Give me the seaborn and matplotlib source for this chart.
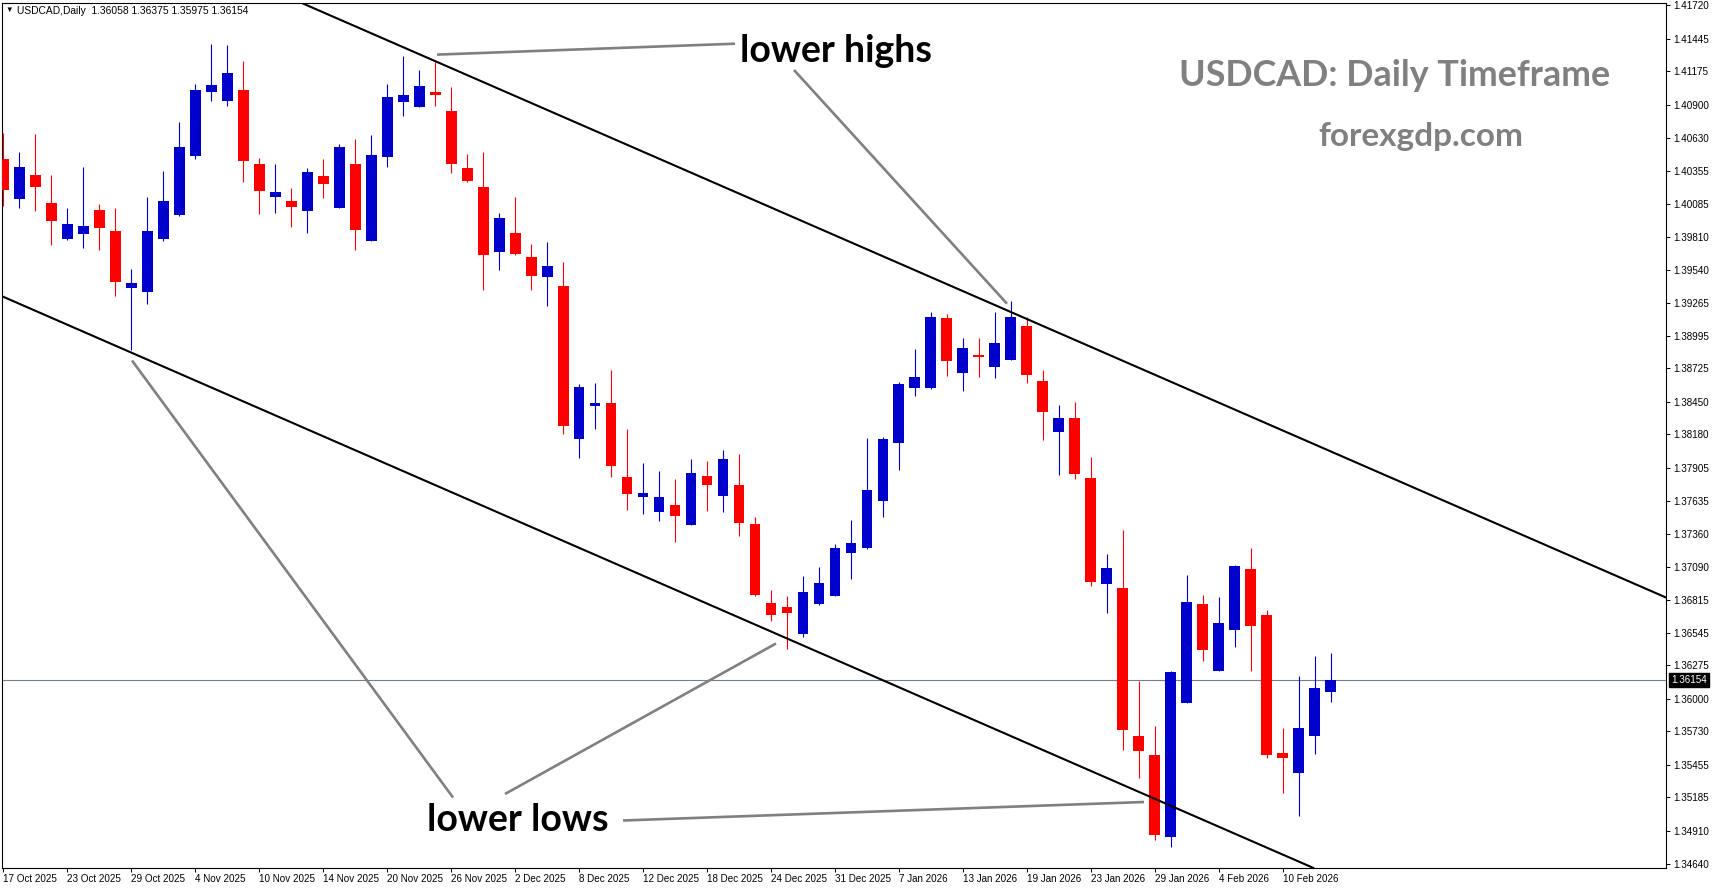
import matplotlib
matplotlib.use("Agg")
import matplotlib.pyplot as plt
from matplotlib.lines import Line2D
import numpy as np
import pandas as pd
import seaborn as sns

# ---------------- data ----------------
opens = [1.40454, 1.40124, 1.40322, 1.40091, 1.39794, 1.39838, 1.40033, 1.39860, 1.39392, 1.39359,
         1.39794, 1.39992, 1.40478, 1.41006, 1.40932, 1.41023, 1.40413, 1.40140, 1.40107, 1.40025,
         1.40314, 1.40050, 1.40413, 1.39778, 1.40470, 1.40924, 1.40883, 1.41006, 1.40850, 1.40380,
         1.40223, 1.39687, 1.39843, 1.39646, 1.39481, 1.39406, 1.38145, 1.38417, 1.38442, 1.37831,
         1.37666, 1.37543, 1.37600, 1.37435, 1.37839, 1.37675, 1.37765, 1.37444, 1.36792, 1.36759,
         1.36536, 1.36784, 1.36850, 1.37204, 1.37246, 1.37633, 1.38112, 1.38565, 1.38565, 1.39142,
         1.38689, 1.38837, 1.38738, 1.38796, 1.39077, 1.38623, 1.38202, 1.38318, 1.37823, 1.36949,
         1.36916, 1.35695, 1.35539, 1.34862, 1.35967, 1.36784, 1.36231, 1.36569, 1.37073, 1.36693,
         1.35555, 1.35390, 1.35695, 1.36058]
highs = [1.40666, 1.40511, 1.40660, 1.40322, 1.40050, 1.40388, 1.40083, 1.40050, 1.39547, 1.40140,
         1.40355, 1.40759, 1.41072, 1.41402, 1.41394, 1.41262, 1.40462, 1.40413, 1.40215, 1.40380,
         1.40454, 1.40577, 1.40619, 1.40652, 1.41072, 1.41303, 1.41188, 1.41254, 1.41048, 1.40495,
         1.40511, 1.40008, 1.40140, 1.39753, 1.39769, 1.39604, 1.38598, 1.38606, 1.38714, 1.38227,
         1.37947, 1.37881, 1.37815, 1.37980, 1.37963, 1.38054, 1.38021, 1.37501, 1.36899, 1.36850,
         1.37015, 1.37089, 1.37279, 1.37477, 1.38153, 1.38161, 1.38615, 1.38887, 1.39192, 1.39175,
         1.38978, 1.38978, 1.39192, 1.39283, 1.39151, 1.38714, 1.38425, 1.38450, 1.37996, 1.37196,
         1.37394, 1.36149, 1.35778, 1.36231, 1.37023, 1.36858, 1.36842, 1.37105, 1.37246, 1.36734,
         1.35761, 1.36190, 1.36355, 1.36375]
lows = [1.40069, 1.40052, 1.40025, 1.39745, 1.39786, 1.39722, 1.39698, 1.39326, 1.38873, 1.39260,
        1.39780, 1.39984, 1.40454, 1.40932, 1.40891, 1.40264, 1.40000, 1.40008, 1.39893, 1.39843,
        1.40132, 1.40046, 1.39703, 1.39773, 1.40388, 1.40808, 1.40879, 1.40891, 1.40338, 1.40264,
        1.39373, 1.39538, 1.39662, 1.39373, 1.39241, 1.38186, 1.37988, 1.38227, 1.37831, 1.37559,
        1.37526, 1.37468, 1.37295, 1.37431, 1.37551, 1.37543, 1.37345, 1.36850, 1.36644, 1.36413,
        1.36512, 1.36776, 1.36846, 1.36990, 1.37237, 1.37501, 1.37889, 1.38499, 1.38557, 1.38664,
        1.38540, 1.38656, 1.38648, 1.38792, 1.38606, 1.38136, 1.37848, 1.37815, 1.36932, 1.36710,
        1.35580, 1.35349, 1.34838, 1.34780, 1.35963, 1.36314, 1.36227, 1.36429, 1.36231, 1.35514,
        1.35225, 1.35035, 1.35547, 1.35975]
closes = [1.40201, 1.40388, 1.40225, 1.39942, 1.39918, 1.39901, 1.39885, 1.39442, 1.39431, 1.39860,
          1.40107, 1.40553, 1.41023, 1.41064, 1.41163, 1.40437, 1.40190, 1.40182, 1.40058, 1.40347,
          1.40248, 1.40553, 1.39868, 1.40487, 1.40965, 1.40982, 1.41056, 1.40982, 1.40413, 1.40272,
          1.39662, 1.39967, 1.39670, 1.39489, 1.39571, 1.38252, 1.38573, 1.38442, 1.37922, 1.37691,
          1.37699, 1.37666, 1.37510, 1.37864, 1.37765, 1.37980, 1.37452, 1.36858, 1.36693, 1.36710,
          1.36883, 1.36957, 1.37246, 1.37287, 1.37724, 1.38145, 1.38598, 1.38656, 1.39151, 1.38788,
          1.38895, 1.38821, 1.38936, 1.39151, 1.38672, 1.38367, 1.38318, 1.37856, 1.36965, 1.37081,
          1.35745, 1.35572, 1.34879, 1.36223, 1.36800, 1.36404, 1.36627, 1.37097, 1.36602, 1.35539,
          1.35514, 1.35761, 1.36091, 1.36154]

x_tick_labels = ["17 Oct 2025", "23 Oct 2025", "29 Oct 2025", "4 Nov 2025", "10 Nov 2025",
                 "14 Nov 2025", "20 Nov 2025", "26 Nov 2025", "2 Dec 2025", "8 Dec 2025",
                 "12 Dec 2025", "18 Dec 2025", "24 Dec 2025", "31 Dec 2025", "7 Jan 2026",
                 "13 Jan 2026", "19 Jan 2026", "23 Jan 2026", "29 Jan 2026", "4 Feb 2026",
                 "10 Feb 2026"]
y_tick_values = [1.41720, 1.41445, 1.41175, 1.40900, 1.40630, 1.40355, 1.40085, 1.39810, 1.39540,
                 1.39265, 1.38995, 1.38725, 1.38450, 1.38180, 1.37905, 1.37635, 1.37360, 1.37090,
                 1.36815, 1.36545, 1.36275, 1.36000, 1.35730, 1.35455, 1.35185, 1.34910, 1.34640]
last_price = 1.36154
header_text = "USDCAD,Daily  1.36058 1.36375 1.35975 1.36154"

# channel anchors (candle index, price)
upper_channel = [(18.54, 1.41747), (103.92, 1.36837)]
lower_channel = [(0.0, 1.39316), (81.92, 1.34603)]

# ---------------- style ----------------
sns.set_theme(style="white")
plt.rcParams['font.family'] = ['Liberation Sans', 'DejaVu Sans']

W, H = 1713, 888
fig = plt.figure(figsize=(W / 100, H / 100), dpi=100)
fig.patch.set_facecolor('white')
ax_l, ax_r, ax_t, ax_b = 2, 1666, 3, 868
ax = fig.add_axes([ax_l / W, 1 - ax_b / H, (ax_r - ax_l) / W, (ax_b - ax_t) / H])
ax.set_facecolor('white')

df = pd.DataFrame({'o': opens, 'h': highs, 'l': lows, 'c': closes})
df['idx'] = np.arange(len(df))
bull = df['c'] >= df['o']
colors = np.where(bull, '#0000CD', '#FF0000')

# current price line
ax.axhline(last_price, color='#708090', lw=0.8, zorder=1)

# candles
ax.vlines(df['idx'], df['l'], df['h'], colors=colors, linewidth=0.8, zorder=2)
body_low = df[['o', 'c']].min(axis=1)
body_h = (df['c'] - df['o']).abs().clip(lower=0.00012)
ax.bar(df['idx'], body_h, bottom=body_low, width=0.68, color=colors, linewidth=0, zorder=3)

# channel lines
ax.axline(upper_channel[0], upper_channel[1], color='black', lw=1.5, zorder=4)
ax.axline(lower_channel[0], lower_channel[1], color='black', lw=1.5, zorder=4)

ax.set_xlim(-0.08, 103.96)
ax.set_ylim(1.34603, 1.41740)

ax.yaxis.tick_right()
ax.set_yticks(y_tick_values)
ax.set_yticklabels([f"{v:.5f}" for v in y_tick_values])
ax.set_xticks([4 * k for k in range(len(x_tick_labels))])
ax.set_xticklabels(x_tick_labels)
for lab in ax.get_xticklabels():
    lab.set_ha('left')
ax.tick_params(axis='both', direction='out', length=2.9, width=0.7, color='black',
               labelsize=7.1, labelcolor='black', pad=1.5,
               bottom=True, right=True, left=False, top=False,
               labelright=True, labelleft=False)
ax.tick_params(axis='y', pad=2.5)
for s in ax.spines.values():
    s.set_color('black')
    s.set_linewidth(0.8)
ax.grid(False)

# price label
ax.annotate(f"{last_price:.5f}", xy=(1.0, last_price), xycoords=('axes fraction', 'data'),
            xytext=(5, 0), textcoords='offset pixels', ha='left', va='center',
            color='white', fontsize=7.1,
            bbox=dict(boxstyle='square,pad=0.18', fc='black', ec='black'),
            annotation_clip=False, zorder=6)

# header
def fp(x, y):
    return x / W, 1 - y / H

fig.text(*fp(9.5, 10.7), '▼', fontsize=5.5, ha='center', va='center', color='black')
fig.text(*fp(17, 10.7), header_text, fontsize=7.4, ha='left', va='center', color='black')

# annotation lines
gray = '#808080'
ann_lines = [((735, 43.7), (437, 54.6)),
             ((794, 70), (1007, 303.7)),
             ((505, 794), (776, 643.5)),
             ((453, 797.5), (132, 360.5)),
             ((623, 820.5), (1144, 802))]
for (x1, y1), (x2, y2) in ann_lines:
    a, b = fp(x1, y1), fp(x2, y2)
    fig.add_artist(Line2D([a[0], b[0]], [a[1], b[1]], transform=fig.transFigure,
                          color=gray, lw=1.9, solid_capstyle='butt'))

fig.text(*fp(836, 62), "lower highs", fontsize=27, fontweight='bold', family=['Lato', 'DejaVu Sans'],
         ha='center', va='baseline', color='black')
fig.text(*fp(518, 831), "lower lows", fontsize=27, fontweight='bold', family=['Lato', 'DejaVu Sans'],
         ha='center', va='baseline', color='black')
fig.text(*fp(1395, 86), "USDCAD: Daily Timeframe", fontsize=25.8, fontweight='bold',
         family=['Lato', 'DejaVu Sans'], ha='center', va='baseline', color=gray)
fig.text(*fp(1421, 146), "forexgdp.com", fontsize=24, fontweight='bold',
         family=['Lato', 'DejaVu Sans'], ha='center', va='baseline', color=gray)

fig.savefig("out.png", dpi=100, facecolor='white')
